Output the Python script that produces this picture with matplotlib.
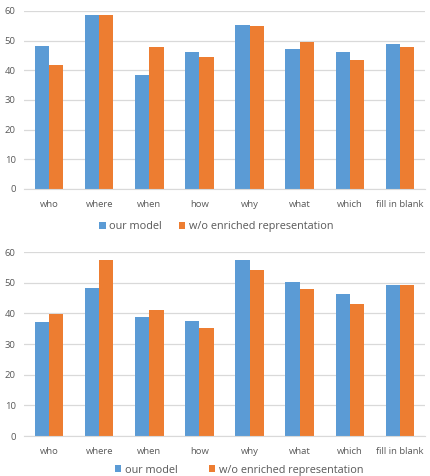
import matplotlib.pyplot as plt
import numpy as np

categories = ['who', 'where', 'when', 'how', 'why', 'what', 'which', 'fill in blank']
series_names = ['our model', 'w/o enriched representation']

top_our = [48.2, 58.8, 38.3, 46.1, 55.4, 47.1, 46.2, 48.9]
top_wo = [41.8, 58.8, 47.9, 44.5, 54.9, 49.7, 43.5, 47.9]

bottom_our = [37.2, 48.2, 38.9, 37.5, 57.3, 50.3, 46.3, 49.1]
bottom_wo = [39.8, 57.5, 41.0, 35.2, 54.0, 47.9, 43.1, 49.1]

blue = '#5B9BD5'
orange = '#ED7D31'
grid_color = '#D9D9D9'
text_color = '#595959'

plt.rcParams['font.family'] = ['Open Sans', 'DejaVu Sans']


def draw_panel(ax, ours, wo, legend_pos, colspace):
    x = np.arange(len(categories))
    w = 0.285
    ax.bar(x - w / 2, ours, w, color=blue, label=series_names[0], zorder=3)
    ax.bar(x + w / 2, wo, w, color=orange, label=series_names[1], zorder=3)
    ax.set_xlim(-0.5, len(categories) - 0.5)
    ax.set_ylim(0, 60)
    ax.set_yticks(range(0, 61, 10))
    ax.set_xticks(x)
    ax.set_xticklabels(categories)
    ax.grid(axis='y', color=grid_color, linewidth=0.9, zorder=0)
    for s in ['top', 'right', 'left']:
        ax.spines[s].set_visible(False)
    ax.spines['bottom'].set_color(grid_color)
    ax.spines['bottom'].set_zorder(4)
    ax.tick_params(axis='both', length=0, labelsize=6.8, colors=text_color, pad=8)
    ax.tick_params(axis='y', pad=6)
    ax.legend(loc='center', bbox_to_anchor=legend_pos, ncol=2, frameon=False,
              handlelength=0.6, handleheight=0.6, handletextpad=0.3, columnspacing=colspace,
              fontsize=7.8, labelcolor=text_color)


fig = plt.figure(figsize=(4.3, 4.76), dpi=100)
ax1 = fig.add_axes([24 / 430, 1 - 189 / 476, 401 / 430, 178 / 476])
ax2 = fig.add_axes([24 / 430, 1 - 436 / 476, 401 / 430, 184 / 476])

draw_panel(ax1, top_our, top_wo, (0.479, -0.213), 1.6)
draw_panel(ax2, bottom_our, bottom_wo, (0.536, -0.185), 2.9)

fig.savefig('out.png', dpi=100)
